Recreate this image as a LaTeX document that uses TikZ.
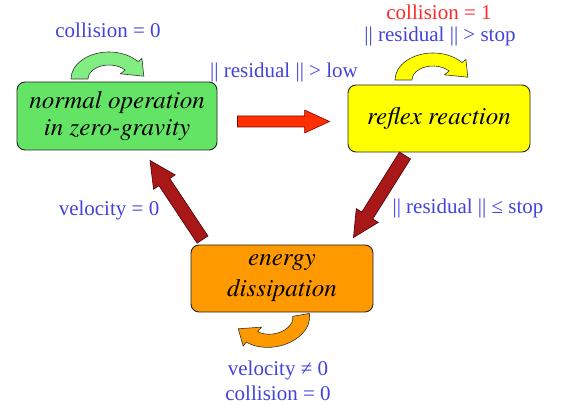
\documentclass[tikz,border=0pt]{standalone}
\usepackage{fontspec}
\setmainfont{Liberation Serif}
\newfontfamily\statefont{TeX Gyre Termes}
\usepackage{tikz}
\usetikzlibrary{calc, positioning}

\definecolor{boxgreen}{RGB}{100,228,100}
\definecolor{loopgreen}{RGB}{128,238,128}
\definecolor{boxyellow}{RGB}{255,255,0}
\definecolor{boxorange}{RGB}{255,153,0}
\definecolor{fwdred}{RGB}{255,48,0}
\definecolor{backred}{RGB}{168,24,24}
\definecolor{condblue}{RGB}{66,66,220}
\definecolor{condred}{RGB}{255,40,40}

\tikzset{
  statebox/.style={draw=black!85, line width=0.9pt, rounded corners=8pt, align=center,
    inner sep=0pt, font=\statefont\fontsize{25}{27}\selectfont\itshape},
  cond/.style={text=condblue, inner sep=0pt, align=center, font=\fontsize{21}{25}\selectfont},
  loopline/.style={draw=black!80, line width=0.6pt},
  fwdarrow/.style={fill=fwdred, draw=red!50!black, line width=0.6pt},
  backarrow/.style={fill=backred, draw=black!70!red, line width=0.6pt},
  selfloop/.pic={
    \path[pic actions] (-38,0) arc[start angle=180, end angle=40, x radius=38, y radius=27]
      -- (32.9,20.6) -- (34.8,2.8) -- (11.5,5.2) -- (16.1,9.0)
      arc[start angle=40, end angle=180, x radius=21, y radius=14] -- cycle;
  }
}

% fat arrow: [style]{tail}{tip}{shaft half width}{head half width}{head length}
\newcommand{\fatarrow}[6][]{%
  \coordinate (#3-h) at ($(#3)!#6!(#2)$);
  \draw[#1] ($(#2)!#4!90:(#3)$) -- ($(#3-h)!#4!90:(#3)$) -- ($(#3-h)!#5!90:(#3)$)
    -- (#3) -- ($(#3-h)!#5!-90:(#3)$) -- ($(#3-h)!#4!-90:(#3)$)
    -- ($(#2)!#4!-90:(#3)$) -- cycle;
}

\begin{document}
\begin{tikzpicture}[x=1pt, y=1pt]
    \useasboundingbox (0,0) rectangle (561,412);

    % States
    \node[statebox, fill=boxgreen, minimum width=200pt, minimum height=68pt] (normal) at (117,296) {normal operation\\in zero-gravity};
    \node[statebox, fill=boxyellow, minimum width=182pt, minimum height=67pt] (reflex) at (439,293.5) {reflex reaction};
    \node[statebox, fill=boxorange, minimum width=182pt, minimum height=67pt,
        font=\statefont\fontsize{25}{31}\selectfont\itshape] (energy) at (282,133.5) {energy\\dissipation};

    % Transitions between states
    \coordinate (lowtail) at ($(normal.east)+(20,-5.5)$);
    \coordinate (lowtip) at ($(reflex.west)+(-18,-3)$);
    \fatarrow[fwdarrow]{lowtail}{lowtip}{5.5pt}{11.5pt}{25pt}

    \coordinate (stoptail) at ($(reflex.south)+(-34,-3)$);
    \coordinate (stoptip) at ($(energy.north east)+(-20,7)$);
    \fatarrow[backarrow]{stoptail}{stoptip}{6.5pt}{13pt}{26pt}

    \coordinate (veltail) at ($(energy.north west)+(12,5)$);
    \coordinate (veltip) at ($(normal.south)+(33,-10)$);
    \fatarrow[backarrow]{veltail}{veltip}{6.5pt}{13pt}{26pt}

    % Self loops
    \pic[loopline, fill=loopgreen] (loopnormal) at (109,333) {selfloop};
    \pic[loopline, fill=boxyellow] (loopreflex) at (433,332) {selfloop};
    \pic[loopline, fill=boxorange, rotate=190] (loopenergy) at (272,92) {selfloop};

    % Conditions
    \node[cond] (condnormal) at (108,382) {collision = 0};
    \node[cond] (condlow) at (284,340) {|| residual || > low};
    \node[cond, text=condred] (condcoll) at (439,400) {collision = 1};
    \node[cond] (condreflex) at (440,376) {|| residual || > stop};
    \node[cond] (condvel) at (109,202) {velocity = 0};
    \node[cond] (condstop) at (468,204) {|| residual || ≤ stop};
    \node[cond] (condenergy) at (278,31.5) {velocity ≠ 0\\collision = 0};

\end{tikzpicture}
\end{document}
